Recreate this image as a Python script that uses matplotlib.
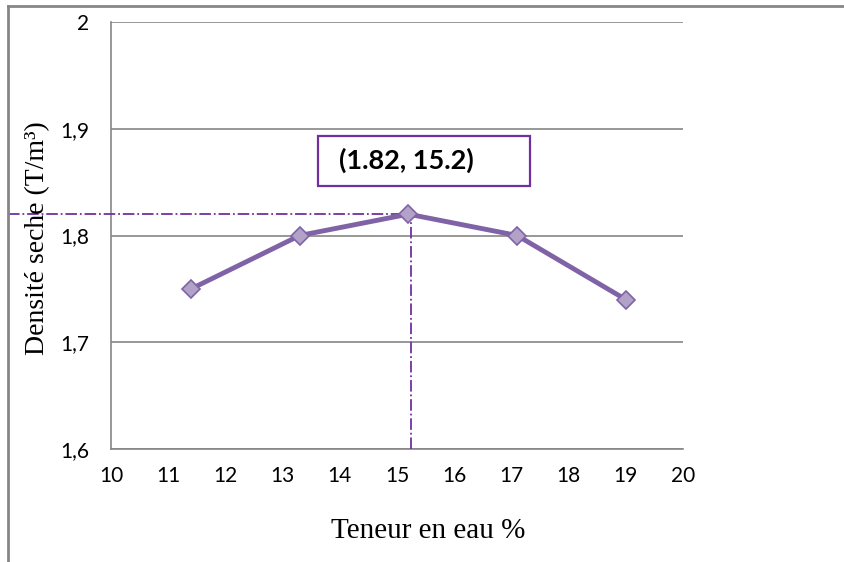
import numpy as np
import matplotlib.pyplot as plt
from matplotlib.patches import Rectangle
from matplotlib.lines import Line2D

# compaction test: water content vs dry density
teneur = [11.4, 13.3, 15.2, 17.1, 19.0]
densite = [1.75, 1.80, 1.82, 1.80, 1.74]
opt_w = 15.2
opt_d = 1.82

xticks = list(range(10, 21))
yticks = [1.6, 1.7, 1.8, 1.9, 2.0]
ylabels = ['1,6', '1,7', '1,8', '1,9', '2']

grey = '#868686'
purple = '#7F63A6'
ref = '#7030A0'

fig = plt.figure(figsize=(8.45, 5.62), dpi=100)
ax = fig.add_axes([111/845, 1 - 449/562, 572/845, 427/562])

ax.set_xlim(10, 20)
ax.set_ylim(1.6, 2.0)
ax.set_xticks(xticks)
ax.set_xticklabels([str(t) for t in xticks], family='Lato', fontsize=15)
ax.set_yticks(yticks)
ax.set_yticklabels(ylabels, family='Lato', fontsize=15)
ax.tick_params(length=0)
ax.tick_params(axis='x', pad=12)
ax.tick_params(axis='y', pad=16)
ax.grid(axis='y', color=grey, lw=1.2)
for s in ['top', 'right']:
    ax.spines[s].set_visible(False)
for s in ['left', 'bottom']:
    ax.spines[s].set_color(grey)
    ax.spines[s].set_linewidth(1.2)

ax.plot(teneur, densite, color=purple, lw=3.5, marker='D', ms=9,
        mfc='#B3A2C7', mec=purple, mew=1.2, zorder=4)

# optimum guide lines
ax.plot([8.2, opt_w], [opt_d, opt_d], color=ref, lw=1.3, ls='-.',
        clip_on=False, zorder=3)
ax.plot([opt_w + 0.05, opt_w + 0.05], [1.6, opt_d], color=ref, lw=1.3,
        ls='-.', zorder=3)

ax.add_patch(Rectangle((13.62, 1.846), 3.71, 0.047, fill=False,
                       edgecolor=ref, lw=1.6, zorder=5))
ax.text(15.17, 1.870, '(%.2f, %.1f)' % (opt_d, opt_w), family='Lato',
        fontweight='bold', fontsize=19.5, ha='center', va='center', zorder=6)

fig.text(428/845, 1 - 531/562, 'Teneur en eau %', family='Liberation Serif',
         fontsize=21, ha='center', va='center')
fig.text(38/845, 1 - 238/562, 'Densité seche (T/m³)',
         family='Liberation Serif', fontsize=20, rotation=90,
         ha='center', va='center')

# outer frame
fig.add_artist(Line2D([8/845, 1], [1 - 6/562, 1 - 6/562], color=grey, lw=2))
fig.add_artist(Line2D([8/845, 8/845], [0, 1 - 6/562], color=grey, lw=2))

fig.savefig('out.png', dpi=100)
